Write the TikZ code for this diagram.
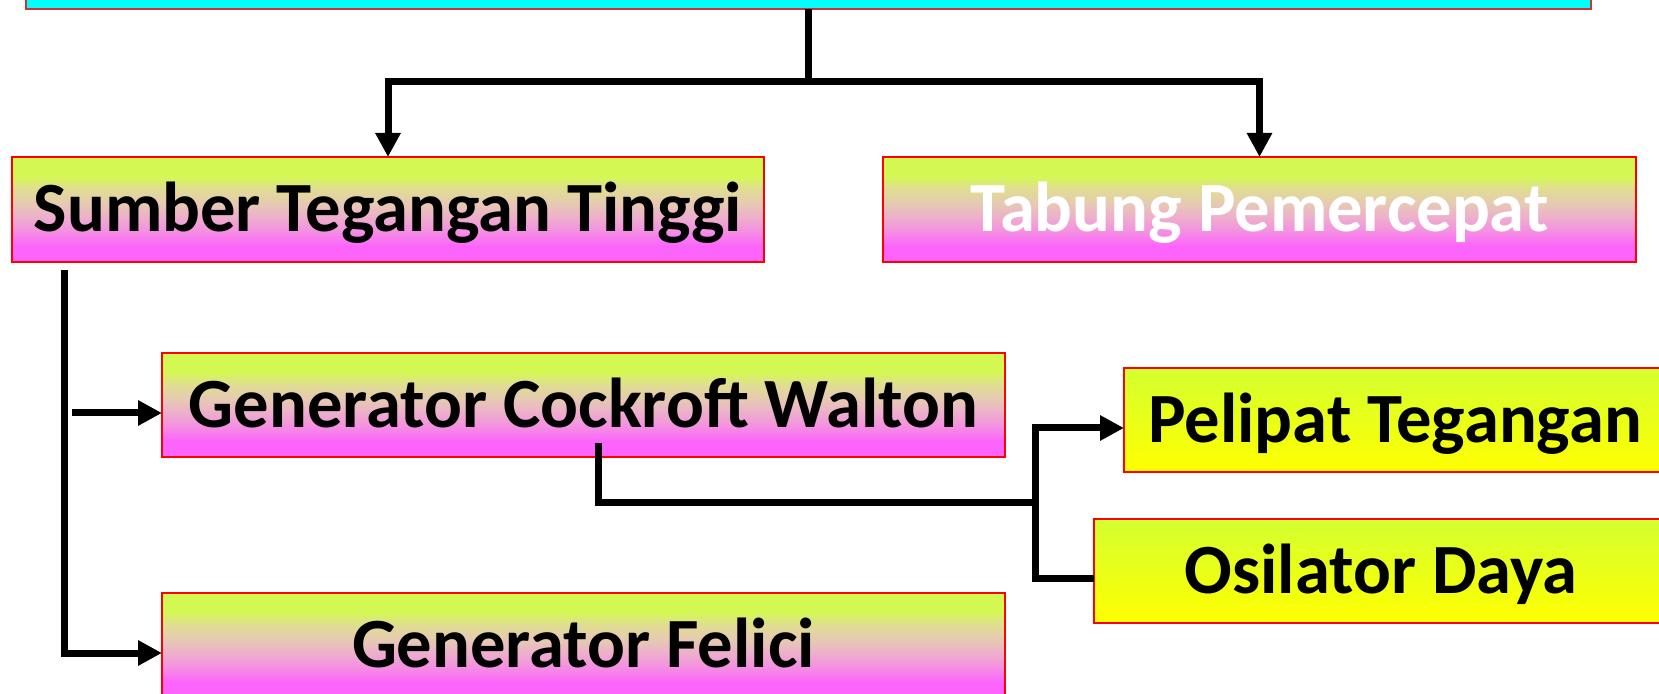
\documentclass[tikz,border=0pt]{standalone}
\usepackage{fontspec}
\setmainfont{Carlito}
\usetikzlibrary{arrows.meta}

\definecolor{bandtop}{RGB}{212,248,82}
\definecolor{bandb}{RGB}{224,222,145}
\definecolor{bandmid}{RGB}{230,200,180}
\definecolor{bandc}{RGB}{236,180,200}
\definecolor{bandd}{RGB}{244,145,225}
\definecolor{bandbot}{RGB}{252,100,252}
\definecolor{limetop}{RGB}{212,255,48}
\definecolor{limebot}{RGB}{255,255,0}
\definecolor{framered}{RGB}{255,0,0}
\definecolor{headframe}{RGB}{204,51,51}
\definecolor{headfill}{RGB}{0,255,255}

% lime-to-magenta fill, path mapped onto 25bp..75bp
\pgfdeclareverticalshading{pinkband}{100bp}{%
  color(0bp)=(bandbot); color(25bp)=(bandbot); color(32.5bp)=(bandbot);
  color(40bp)=(bandd); color(47.5bp)=(bandc); color(52.5bp)=(bandmid);
  color(60bp)=(bandb); color(66bp)=(bandtop); color(100bp)=(bandtop)}

\tikzset{
  boxbase/.style={rectangle, draw=framered, line width=1pt, inner sep=0pt, outer sep=0pt,
    font=\fontsize{35.3}{40}\selectfont\bfseries, text height=22.3pt, text depth=0pt},
  pinkbox/.style={boxbase, shading=pinkband},
  limebox/.style={boxbase, top color=limetop, bottom color=limebot},
  conn/.style={line width=3.5pt, black},
  arr/.style={conn, -{Triangle[length=12pt,width=12pt]}},
}

\begin{document}
\begin{tikzpicture}[x=0.5pt, y=-0.5pt]
  \useasboundingbox (0,0) rectangle (1659,694);
  \clip (0,0) rectangle (1659,694);
  \fill[white] (0,0) rectangle (1659,694);

  % boxes
  \node[rectangle, draw=headframe, line width=0.8pt, fill=headfill, inner sep=0pt, outer sep=0pt,
        minimum width=1565*0.5pt, minimum height=69*0.5pt] (top) at (808.5,-25.5) {};
  \node[pinkbox, minimum width=752*0.5pt, minimum height=105*0.5pt] (sumber) at (388,209.5) {Sumber Tegangan Tinggi};
  \node[pinkbox, minimum width=753*0.5pt, minimum height=105*0.5pt, text=white] (tabung) at (1259.5,209.5) {Tabung Pemercepat};
  \node[pinkbox, minimum width=843*0.5pt, minimum height=104*0.5pt] (cockroft) at (583.5,405) {Generator Cockroft Walton};
  \node[pinkbox, minimum width=843*0.5pt, minimum height=105*0.5pt] (felici) at (583.5,645.5) {Generator Felici};
  \node[limebox, minimum width=542*0.5pt, minimum height=104*0.5pt] (pelipat) at (1395,420) {Pelipat Tegangan};
  \node[limebox, minimum width=574*0.5pt, minimum height=104*0.5pt] (osilator) at (1381,571) {Osilator Daya};

  % connector anchor points
  \coordinate (hub) at (808.5,82);
  \coordinate (s0) at (64,270);
  \coordinate (c0) at (72,413);
  \coordinate (k0) at (598,443);
  \coordinate (split) at (1035,503);

  % connectors
  \draw[conn] (top.south) -- (hub);
  \draw[arr] (hub) -| (sumber.north);
  \draw[arr] (hub) -| (tabung.north);

  \draw[arr] (s0) |- ([yshift=-3.75pt]felici.west);
  \draw[arr] (c0) -- ([yshift=-4pt]cockroft.west);

  \draw[conn] (k0) |- (split);
  \draw[arr] (split) |- ([yshift=-4pt]pelipat.west);
  \draw[conn] (split) |- ([yshift=-3.5pt]osilator.west);
\end{tikzpicture}
\end{document}
